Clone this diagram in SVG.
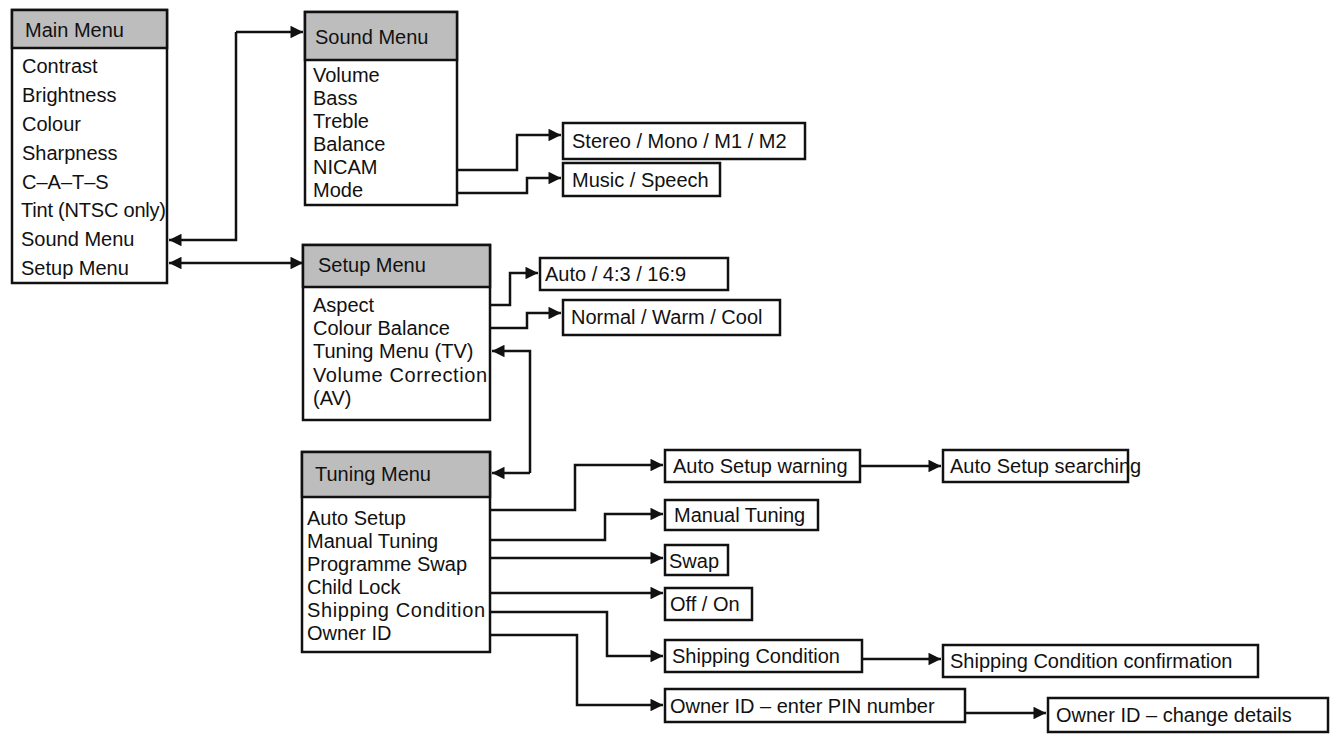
<svg xmlns="http://www.w3.org/2000/svg" width="1337" height="745" viewBox="0 0 1337 745">
<defs>
<marker id="a" viewBox="0 0 10 10" refX="10" refY="5" markerWidth="7" markerHeight="5" orient="auto-start-reverse" markerUnits="strokeWidth"><path d="M0,0 L10,5 L0,10 z" fill="#111"/></marker>
<style>
rect{fill:#fff;stroke:#111;stroke-width:2.5}
rect.h{fill:#bdbdbd}
text{font-family:"Liberation Sans",Arial,sans-serif;font-size:20px;fill:#111}
#conn path{fill:none;stroke:#111;stroke-width:2.5;marker-end:url(#a)}
</style>
</defs>
<rect width="1337" height="745" style="fill:#fff;stroke:none"/>
<g id="main"><rect x="12" y="10" width="155" height="273"/><rect class="h" x="12" y="10" width="155" height="38"/>
<text x="25" y="37">Main Menu</text><text x="22" y="73">Contrast</text><text x="22" y="102">Brightness</text><text x="22" y="131">Colour</text><text x="22" y="160">Sharpness</text><text x="22" y="189">C–A–T–S</text><text x="21" y="217" textLength="145">Tint (NTSC only)</text><text x="21" y="246">Sound Menu</text><text x="21" y="275">Setup Menu</text></g>
<g id="sound"><rect x="305" y="12" width="152" height="193"/><rect class="h" x="305" y="12" width="152" height="48"/>
<text x="315" y="44">Sound Menu</text><text x="313" y="82">Volume</text><text x="313" y="105">Bass</text><text x="313" y="128">Treble</text><text x="313" y="151">Balance</text><text x="313" y="174">NICAM</text><text x="313" y="197">Mode</text></g>
<g id="setup"><rect x="303" y="245" width="187" height="175"/><rect class="h" x="303" y="245" width="187" height="42"/>
<text x="318" y="272">Setup Menu</text><text x="313" y="312">Aspect</text><text x="313" y="335">Colour Balance</text><text x="313" y="358">Tuning Menu (TV)</text><text x="313" y="382" textLength="174">Volume Correction</text><text x="313" y="405">(AV)</text></g>
<g id="tuning"><rect x="302" y="452" width="188" height="200"/><rect class="h" x="302" y="452" width="188" height="45"/>
<text x="315" y="481">Tuning Menu</text><text x="307" y="525">Auto Setup</text><text x="307" y="548">Manual Tuning</text><text x="307" y="571">Programme Swap</text><text x="307" y="594">Child Lock</text><text x="307" y="617" textLength="178">Shipping Condition</text><text x="307" y="640">Owner ID</text></g>
<g id="stereo"><rect x="563" y="123" width="242" height="36"/><text x="572" y="148">Stereo / Mono / M1 / M2</text></g>
<g id="music"><rect x="563" y="163" width="157" height="33"/><text x="572" y="187">Music / Speech</text></g>
<g id="aspect"><rect x="540" y="258" width="188" height="32"/><text x="545" y="281">Auto / 4:3 / 16:9</text></g>
<g id="colbal"><rect x="563" y="300" width="217" height="35"/><text x="571" y="324">Normal / Warm / Cool</text></g>
<g id="asw"><rect x="665" y="450" width="195" height="32"/><text x="673" y="473">Auto Setup warning</text></g>
<g id="ass"><rect x="943" y="450" width="185" height="32"/><text x="950" y="473">Auto Setup searching</text></g>
<g id="mt"><rect x="665" y="500" width="153" height="30"/><text x="674" y="522">Manual Tuning</text></g>
<g id="swap"><rect x="665" y="545" width="63" height="30"/><text x="669" y="568">Swap</text></g>
<g id="off"><rect x="665" y="588" width="87" height="32"/><text x="670" y="611">Off / On</text></g>
<g id="sc"><rect x="665" y="640" width="197" height="32"/><text x="672" y="663">Shipping Condition</text></g>
<g id="scc"><rect x="943" y="645" width="315" height="32"/><text x="950" y="668">Shipping Condition confirmation</text></g>
<g id="oid"><rect x="665" y="689" width="300" height="33"/><text x="670" y="713">Owner ID – enter PIN number</text></g>
<g id="ocd"><rect x="1048" y="698" width="280" height="34"/><text x="1056" y="722">Owner ID – change details</text></g>
<g id="conn">
<path d="M236,32 H303" /><path d="M236,32 V240 H169"/>
<path d="M169,263 H303" style="marker-start:url(#a)"/>
<path d="M457,170 H517 V135 H561"/>
<path d="M457,193 H527 V178 H561"/>
<path d="M490,305 H510 V273 H538"/>
<path d="M490,328 H527 V313 H561"/>
<path d="M530,473 V351 H492"/><path d="M530,473 H492"/>
<path d="M490,510 H575 V465 H663"/>
<path d="M490,540 H605 V514 H663"/>
<path d="M490,558 H663"/>
<path d="M490,593 H663"/>
<path d="M490,612 H607 V656 H663"/>
<path d="M490,635 H577 V705 H663"/>
<path d="M860,466 H941"/>
<path d="M862,659 H941"/>
<path d="M965,713 H1046"/>
</g>
</svg>
